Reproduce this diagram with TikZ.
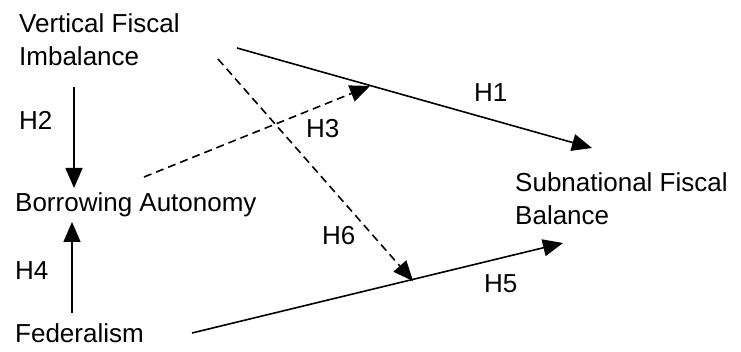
\documentclass[tikz,border=0pt]{standalone}
\usepackage{fontspec}
\setmainfont{Liberation Sans}
\usetikzlibrary{arrows.meta}
\begin{document}
\begin{tikzpicture}[x=1pt,y=-1pt,
  lbl/.style={anchor=base west,inner sep=0pt,align=left,font=\fontsize{26}{33.5}\selectfont},
  conn/.style={line width=1.6pt,-{Triangle[length=20pt,width=17pt]}},
  dconn/.style={conn,dash pattern=on 8pt off 5pt}]
\useasboundingbox (0,0) rectangle (741,352);
\node[lbl] (vfi) at (19,66) {Vertical Fiscal\\Imbalance};
\node[lbl] (ba) at (15,212) {Borrowing Autonomy};
\node[lbl] (fed) at (15,342) {Federalism};
\node[lbl] (sfb) at (515,225) {Subnational Fiscal\\Balance};
\node[lbl] (h1) at (474,102) {H1};
\node[lbl] (h2) at (19,130) {H2};
\node[lbl] (h3) at (306,138) {H3};
\node[lbl] (h4) at (15,280) {H4};
\node[lbl] (h5) at (484,293) {H5};
\node[lbl] (h6) at (322,245) {H6};
% connector end points
\coordinate (h1s) at (237,48);
\coordinate (h1e) at (592,148);
\coordinate (h5s) at (192,333);
\coordinate (h5e) at (563,243);
\coordinate (h2s) at (74,87);
\coordinate (h2e) at (74,188);
\coordinate (h4s) at (72,313);
\coordinate (h4e) at (72,222);
\coordinate (h3s) at (144,177);
\coordinate (h3e) at (370,86);
\coordinate (h6s) at (218,59);
\coordinate (h6e) at (413,281);
\draw[conn] (h1s) -- (h1e);
\draw[conn] (h5s) -- (h5e);
\draw[conn] (h2s) -- (h2e);
\draw[conn] (h4s) -- (h4e);
\draw[dconn] (h3s) -- (h3e);
\draw[dconn] (h6s) -- (h6e);
\end{tikzpicture}
\end{document}
